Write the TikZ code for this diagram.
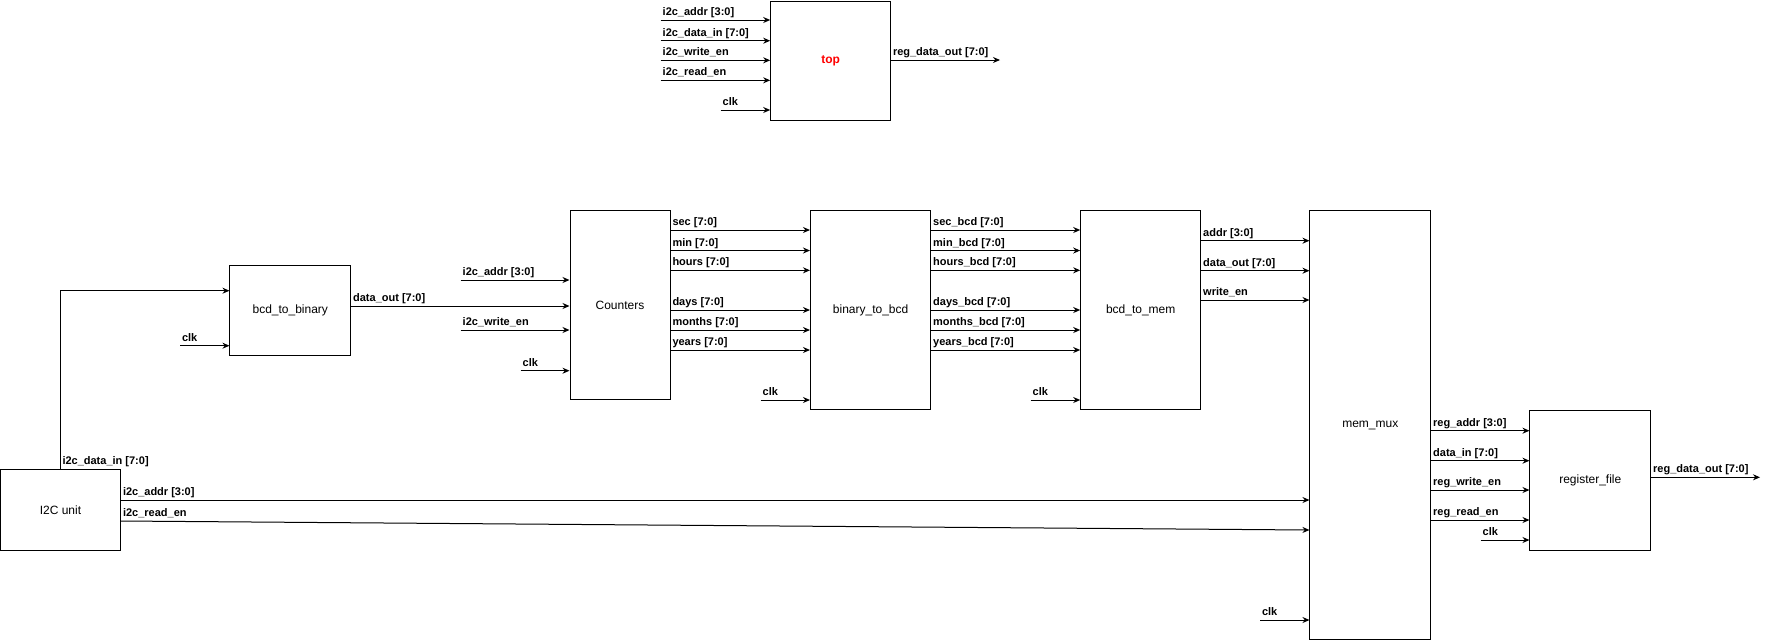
\documentclass[tikz,border=0pt]{standalone}
\usepackage{fontspec}
\setmainfont{Liberation Sans}
\usetikzlibrary{arrows.meta}

\begin{document}
\begin{tikzpicture}[x=1pt, y=-1pt, line width=1pt, >=Stealth,
    blk/.style={draw, line width=1pt, inner sep=0pt, font=\fontsize{12}{14}\selectfont},
    sig/.style={-{Stealth[length=7pt,width=6pt]}},
    lbl/.style={anchor=base west, inner sep=0pt, xshift=1.5pt, yshift=4.5pt, font=\bfseries\fontsize{11}{13}\selectfont}]
  \useasboundingbox (0,0) rectangle (1769,641);

  % blocks
  \node[blk, minimum width=119.8pt, minimum height=119pt, text=red, font=\bfseries\fontsize{12}{14}\selectfont] (top) at (830.6,60.5) {top};
  \node[blk, minimum width=120pt, minimum height=80.7pt] (i2c) at (60.5,510.3) {I2C unit};
  \node[blk, minimum width=120.7pt, minimum height=90pt] (bcdbin) at (290.3,310.3) {bcd\_to\_binary};
  \node[blk, minimum width=100pt, minimum height=189.3pt] (cnt) at (620,305.3) {Counters};
  \node[blk, minimum width=120.2pt, minimum height=199.3pt] (binbcd) at (870.6,310.3) {binary\_to\_bcd};
  \node[blk, minimum width=120pt, minimum height=199.3pt] (bcdmem) at (1140.7,310.3) {bcd\_to\_mem};
  \node[blk, minimum width=120.7pt, minimum height=429.3pt] (mux) at (1370.3,425.3) {mem\_mux};
  \node[blk, minimum width=120.7pt, minimum height=140pt] (regf) at (1590.3,480.7) {register\_file};

  % top level ports
  \foreach \y/\t [count=\i] in {20/i2c\_addr [3:0], 40.7/i2c\_data\_in [7:0], 60.3/i2c\_write\_en, 80.3/i2c\_read\_en} {
    \coordinate (tin\i) at (660.7,\y);
    \draw[sig] (tin\i) node[lbl] {\t} -- (tin\i -| top.west);
  }
  \coordinate (tclk) at (720.7,110);
  \draw[sig] (tclk) node[lbl] {clk} -- (tclk -| top.west);
  \coordinate (tout) at (1000,60);
  \draw[sig] (top.east |- tout) node[lbl] {reg\_data\_out [7:0]} -- (tout);

  % I2C unit
  \draw[sig] (i2c.north) node[lbl] {i2c\_data\_in [7:0]} |- (bcdbin.west |- 0,290.7);
  \draw[sig] (i2c.east |- 0,500) node[lbl] {i2c\_addr [3:0]} -- (mux.west |- 0,500);
  \draw[sig] (i2c.east |- 0,521) node[lbl] {i2c\_read\_en} -- (mux.west |- 0,530);

  % bcd_to_binary
  \coordinate (bclk) at (180,345.7);
  \draw[sig] (bclk) node[lbl] {clk} -- (bclk -| bcdbin.west);
  \draw[sig] (bcdbin.east |- 0,306) node[lbl] {data\_out [7:0]} -- (cnt.west |- 0,306);

  % counters
  \coordinate (caddr) at (460.7,280);
  \coordinate (cwen) at (460.7,330);
  \coordinate (cclk) at (520.7,370.7);
  \draw[sig] (caddr) node[lbl] {i2c\_addr [3:0]} -- (caddr -| cnt.west);
  \draw[sig] (cwen) node[lbl] {i2c\_write\_en} -- (cwen -| cnt.west);
  \draw[sig] (cclk) node[lbl] {clk} -- (cclk -| cnt.west);
  \foreach \y/\t in {230/sec [7:0], 250.5/min [7:0], 270.3/hours [7:0], 310/days [7:0], 330/months [7:0], 350/years [7:0]}
    \draw[sig] (cnt.east |- 0,\y) node[lbl] {\t} -- (binbcd.west |- 0,\y);

  % binary_to_bcd
  \coordinate (bbclk) at (760.7,400);
  \draw[sig] (bbclk) node[lbl] {clk} -- (bbclk -| binbcd.west);
  \foreach \y/\t in {230/sec\_bcd [7:0], 250.5/min\_bcd [7:0], 270.3/hours\_bcd [7:0], 310/days\_bcd [7:0], 330/months\_bcd [7:0], 350/years\_bcd [7:0]}
    \draw[sig] (binbcd.east |- 0,\y) node[lbl] {\t} -- (bcdmem.west |- 0,\y);

  % bcd_to_mem
  \coordinate (bmclk) at (1030.7,400);
  \draw[sig] (bmclk) node[lbl] {clk} -- (bmclk -| bcdmem.west);
  \foreach \y/\t in {240.7/addr [3:0], 270.7/data\_out [7:0], 300/write\_en}
    \draw[sig] (bcdmem.east |- 0,\y) node[lbl] {\t} -- (mux.west |- 0,\y);

  % mem_mux
  \coordinate (mclk) at (1260,620);
  \draw[sig] (mclk) node[lbl] {clk} -- (mclk -| mux.west);
  \foreach \y/\t in {430.7/reg\_addr [3:0], 460.7/data\_in [7:0], 490/reg\_write\_en, 520/reg\_read\_en}
    \draw[sig] (mux.east |- 0,\y) node[lbl] {\t} -- (regf.west |- 0,\y);

  % register_file
  \coordinate (rclk) at (1480.7,540);
  \draw[sig] (rclk) node[lbl] {clk} -- (rclk -| regf.west);
  \coordinate (rout) at (1760,477.3);
  \draw[sig] (regf.east |- rout) node[lbl] {reg\_data\_out [7:0]} -- (rout);
\end{tikzpicture}
\end{document}
